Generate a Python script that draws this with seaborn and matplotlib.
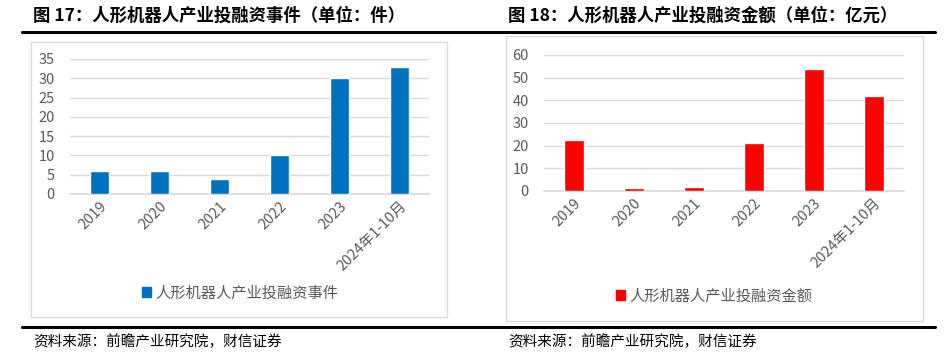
import matplotlib.pyplot as plt
import seaborn as sns
import pandas as pd
from matplotlib.patches import Rectangle, Patch
from matplotlib.lines import Line2D

sns.set_theme(style="white")
plt.rcParams['font.family'] = ['Noto Sans CJK SC', 'DejaVu Sans']
plt.rcParams['axes.unicode_minus'] = False

categories = ['2019', '2020', '2021', '2022', '2023', '2024年1-10月']
events = [6, 6, 4, 10, 30, 33]
amounts = [22.3, 1.2, 1.8, 21.2, 54, 42]

titles = ['图 17：人形机器人产业投融资事件（单位：件）',
          '图 18：人形机器人产业投融资金额（单位：亿元）']
series_names = ['人形机器人产业投融资事件', '人形机器人产业投融资金额']
source = '资料来源：前瞻产业研究院，财信证券'

W, H = 948, 357
fig = plt.figure(figsize=(W / 100, H / 100), dpi=100)


def fx(px):
    return px / W


def fy(py):
    return 1 - py / H


# 外框和分隔线
for x0, y0, x1, y1 in [(31, 42, 447, 317), (506, 36, 923, 321)]:
    fig.patches.append(Rectangle((fx(x0), fy(y1)), fx(x1 - x0), (y1 - y0) / H,
                                 transform=fig.transFigure, fill=False,
                                 edgecolor='#d9d9d9', linewidth=1))
for y in [32, 327]:
    fig.lines.append(Line2D([fx(22), fx(935)], [fy(y), fy(y)],
                            transform=fig.transFigure, color='black', linewidth=2.2))

panels = [
    dict(vals=events, color='#0070C0', ylim=35, step=5,
         box=(70, 59, 429, 194), legend_xy=(240, 293), title_x=33, src_x=33),
    dict(vals=amounts, color='#FF0000', ylim=60, step=10,
         box=(544, 55, 904, 191), legend_xy=(714, 296), title_x=508, src_x=508),
]

for i, p in enumerate(panels):
    x0, y0, x1, y1 = p['box']
    ax = fig.add_axes([fx(x0), fy(y1), fx(x1 - x0), (y1 - y0) / H])
    df = pd.DataFrame({'cat': categories, 'val': p['vals']})
    sns.barplot(data=df, x='cat', y='val', color=p['color'], width=0.32,
                saturation=1, ax=ax, zorder=3)
    ax.set_ylim(0, p['ylim'])
    ax.set_yticks(range(0, p['ylim'] + 1, p['step']))
    ax.set_xlim(-0.5, 5.5)
    ax.set_xlabel('')
    ax.set_ylabel('')
    ax.grid(axis='y', color='#d9d9d9', linewidth=1, zorder=0)
    for s in ['top', 'right', 'left']:
        ax.spines[s].set_visible(False)
    ax.spines['bottom'].set_color('#d9d9d9')
    ax.tick_params(axis='both', length=0, labelsize=10.5, labelcolor='#595959')
    ax.tick_params(axis='y', pad=11)
    plt.setp(ax.get_xticklabels(), rotation=45, ha='right', rotation_mode='anchor')

    lx, ly = p['legend_xy']
    fig.legend(handles=[Patch(color=p['color'], label=series_names[i])],
               loc='center', bbox_to_anchor=(fx(lx), fy(ly)), frameon=False,
               handlelength=0.6, handleheight=0.6, handletextpad=0.3,
               prop={'size': 11}, labelcolor='#595959')

    fig.text(fx(p['title_x']), fy(16), titles[i], fontsize=12.5, fontweight='bold',
             va='center', ha='left', color='black')
    fig.text(fx(p['src_x']), fy(342), source, fontsize=10.5, style='italic',
             va='center', ha='left', color='black')

fig.savefig('out.png', dpi=100)
